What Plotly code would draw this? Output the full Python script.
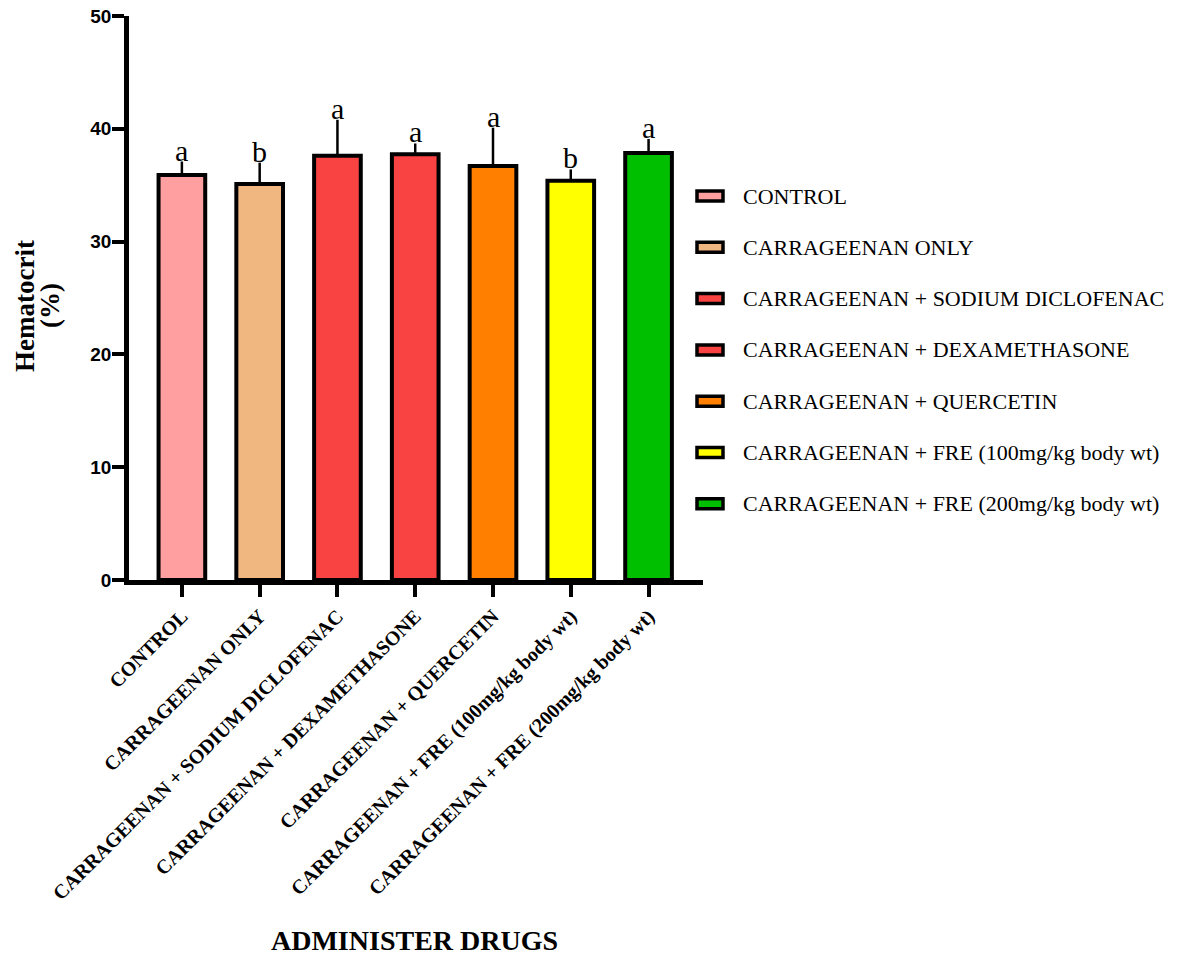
import plotly.graph_objects as go

# Groups, mean hematocrit (%), upper error and significance letters
groups = [
    "CONTROL",
    "CARRAGEENAN ONLY",
    "CARRAGEENAN + SODIUM DICLOFENAC",
    "CARRAGEENAN + DEXAMETHASONE",
    "CARRAGEENAN + QUERCETIN",
    "CARRAGEENAN + FRE (100mg/kg body wt)",
    "CARRAGEENAN + FRE (200mg/kg body wt)",
]
hematocrit = [35.9, 35.1, 37.6, 37.75, 36.7, 35.4, 37.85]
error_upper = [1.2, 1.9, 3.2, 0.95, 3.4, 1.0, 1.25]
letters = ["a", "b", "a", "a", "a", "b", "a"]
colors = ["#FF9F9F", "#F0B780", "#F94343", "#F94343", "#FF7F00", "#FFFF00", "#00BF00"]

y_ticks = [0, 10, 20, 30, 40, 50]

W, H = 1177, 956
L, R, T, B = 129, 703, 16, 580  # plot area in pixels


def px_x(p):
    return (p - L) / (R - L)


def px_y(p):
    return (B - p) / (B - T)


fig = go.Figure()
fig.add_trace(go.Bar(
    x=list(range(len(groups))),
    y=hematocrit,
    marker=dict(color=colors, line=dict(color="black", width=4)),
    width=0.6,
    error_y=dict(type="data", array=error_upper, arrayminus=[0] * len(groups),
                 symmetric=False, color="black", thickness=2.5, width=0),
    showlegend=False,
))

annotations = []
# significance letters above each error bar
for i, (v, e, s) in enumerate(zip(hematocrit, error_upper, letters)):
    annotations.append(dict(
        x=i, y=v + e, xref="x", yref="y", text=s, showarrow=False,
        yanchor="bottom", yshift=-7,
        font=dict(family="Liberation Serif", size=30, color="black"),
    ))

# legend: swatches with labels
shapes = []
for i, (g, c) in enumerate(zip(groups, colors)):
    cy = 196 + i * 51.3
    shapes.append(dict(
        type="rect", xref="paper", yref="paper",
        x0=px_x(697), x1=px_x(723), y0=px_y(cy + 5), y1=px_y(cy - 5),
        fillcolor=c, line=dict(color="black", width=3.5),
    ))
    annotations.append(dict(
        x=px_x(741), y=px_y(cy), xref="paper", yref="paper", text=g,
        showarrow=False, xanchor="left", yanchor="middle",
        font=dict(family="Liberation Serif", size=22, color="black"),
    ))

# y-axis title (two lines)
annotations.append(dict(
    x=px_x(25), y=px_y(306), xref="paper", yref="paper",
    text="Hematocrit", showarrow=False, textangle=-90,
    xanchor="center", yanchor="middle",
    font=dict(family="Liberation Serif", size=27, color="black", weight="bold"),
))
annotations.append(dict(
    x=px_x(50), y=px_y(306), xref="paper", yref="paper",
    text="(%)", showarrow=False, textangle=-90,
    xanchor="center", yanchor="middle",
    font=dict(family="Liberation Serif", size=27, color="black", weight="bold"),
))
# x-axis title
annotations.append(dict(
    x=px_x(414), y=px_y(940), xref="paper", yref="paper",
    text="ADMINISTER DRUGS", showarrow=False,
    xanchor="center", yanchor="middle",
    font=dict(family="Liberation Serif", size=28, color="black", weight="bold"),
))

fig.update_layout(
    width=W, height=H,
    margin=dict(l=L, r=W - R, t=T, b=H - B, pad=0),
    plot_bgcolor="white", paper_bgcolor="white",
    annotations=annotations, shapes=shapes,
    bargap=0.38,
)
fig.update_xaxes(
    range=[-0.68, 6.7], automargin=False,
    tickmode="array", tickvals=list(range(len(groups))), ticktext=groups,
    tickangle=-45,
    tickfont=dict(family="Liberation Serif", size=20, color="black", weight="bold"),
    showline=True, linecolor="black", linewidth=4.5,
    ticks="outside", ticklen=12, tickwidth=4, tickcolor="black",
    showgrid=False, zeroline=False,
)
fig.update_yaxes(
    range=[0, 50], automargin=False,
    tickmode="array", tickvals=y_ticks,
    tickfont=dict(family="Liberation Sans", size=19, color="black", weight="bold"),
    ticklabelstandoff=-3,
    showline=True, linecolor="black", linewidth=4.5,
    ticks="outside", ticklen=12, tickwidth=4, tickcolor="black",
    showgrid=False, zeroline=False,
)

fig.write_html("out.html")
